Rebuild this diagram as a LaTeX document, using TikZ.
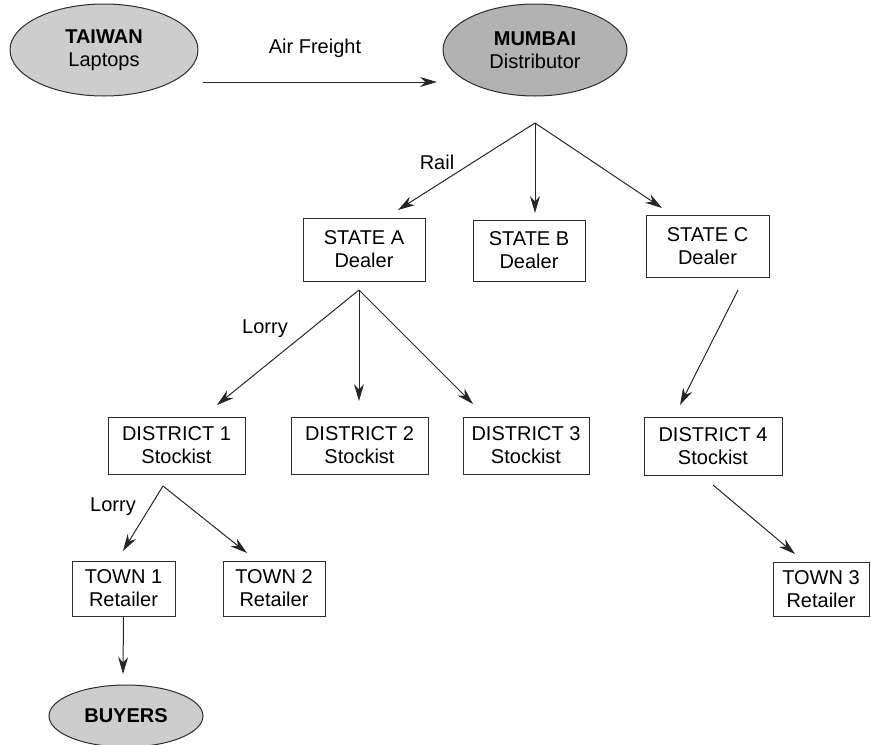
\documentclass[tikz,border=0pt]{standalone}
\usepackage{fontspec}
\setmainfont{Liberation Sans}
\usetikzlibrary{arrows.meta,shapes.geometric}

\definecolor{lightfill}{RGB}{205,205,205}
\definecolor{darkfill}{RGB}{178,178,178}
\definecolor{edgegray}{RGB}{45,45,45}

\tikzset{
  lbl/.style={font=\fontsize{20}{23}\selectfont, inner sep=0pt},
  oval/.style={ellipse, draw=edgegray, line width=1pt, inner sep=0pt,
    align=center, font=\fontsize{20}{23}\selectfont},
  box/.style={rectangle, draw=edgegray, line width=1pt, inner sep=0pt,
    align=center, font=\fontsize{20}{23}\selectfont},
  flow/.style={draw=black!85, line width=1pt,
    -{Stealth[length=17pt,width=10pt]}},
}

\begin{document}
\begin{tikzpicture}[x=1pt,y=-1pt]
\useasboundingbox (0,0) rectangle (871,745);

% terminal ovals
\node[oval, fill=lightfill, minimum width=188pt, minimum height=92pt] (taiwan) at (104,50)
  {\textbf{TAIWAN}\\Laptops};
\node[oval, fill=darkfill, minimum width=184pt, minimum height=92pt] (mumbai) at (535,50)
  {\textbf{MUMBAI}\\Distributor};
\node[oval, fill=lightfill, minimum width=154pt, minimum height=62pt] (buyers) at (126,716)
  {\textbf{BUYERS}};

% dealers
\node[box, minimum width=122pt, minimum height=63pt] (sA) at (364,249.5) {STATE A\\Dealer};
\node[box, minimum width=112pt, minimum height=61pt] (sB) at (529,250.5) {STATE B\\Dealer};
\node[box, minimum width=123pt, minimum height=62pt] (sC) at (707.5,246) {STATE C\\Dealer};

% stockists
\node[box, minimum width=137pt, minimum height=57pt] (d1) at (176.5,445.5) {DISTRICT 1\\Stockist};
\node[box, minimum width=137pt, minimum height=57pt] (d2) at (359.5,445.5) {DISTRICT 2\\Stockist};
\node[box, minimum width=126pt, minimum height=57pt] (d3) at (526,445.5) {DISTRICT 3\\Stockist};
\node[box, minimum width=138pt, minimum height=58pt] (d4) at (713,446) {DISTRICT 4\\Stockist};

% retailers
\node[box, minimum width=103pt, minimum height=55pt] (t1) at (123.5,588.5) {TOWN 1\\Retailer};
\node[box, minimum width=102pt, minimum height=55pt] (t2) at (274,588.5) {TOWN 2\\Retailer};
\node[box, minimum width=96pt, minimum height=54pt] (t3) at (821,589) {TOWN 3\\Retailer};

% branch points and arrow ends
\coordinate (airS) at (203,82);
\coordinate (airE) at (437,82);
\coordinate (mFork) at (535,123);
\coordinate (toA) at (398,210);
\coordinate (toB) at (535,213);
\coordinate (toC) at (662,208);
\coordinate (aFork) at (359,290);
\coordinate (toD1) at (217,405);
\coordinate (toD2) at (359,401);
\coordinate (toD3) at (473,404);
\coordinate (cStart) at (738,290);
\coordinate (toD4) at (680,405);
\coordinate (dFork) at (163,486);
\coordinate (toT1) at (123,551);
\coordinate (toT2) at (247,553);
\coordinate (d4Start) at (713,485);
\coordinate (toT3) at (795,554);
\coordinate (toBuy) at (123,674);

% connectors
\draw[flow] (airS) -- (airE);
\draw[flow] (mFork) -- (toA);
\draw[flow] (mFork) -- (toB);
\draw[flow] (mFork) -- (toC);
\draw[flow] (aFork) -- (toD1);
\draw[flow] (aFork) -- (toD2);
\draw[flow] (aFork) -- (toD3);
\draw[flow] (cStart) -- (toD4);
\draw[flow] (dFork) -- (toT1);
\draw[flow] (dFork) -- (toT2);
\draw[flow] (d4Start) -- (toT3);
\draw[flow] (t1.south) -- (toBuy);

% transport labels
\node[lbl] (air) at (315,48) {Air Freight};
\node[lbl] (rail) at (437,162) {Rail};
\node[lbl] (lorryA) at (265,329) {Lorry};
\node[lbl] (lorryB) at (113,507) {Lorry};
\end{tikzpicture}
\end{document}
